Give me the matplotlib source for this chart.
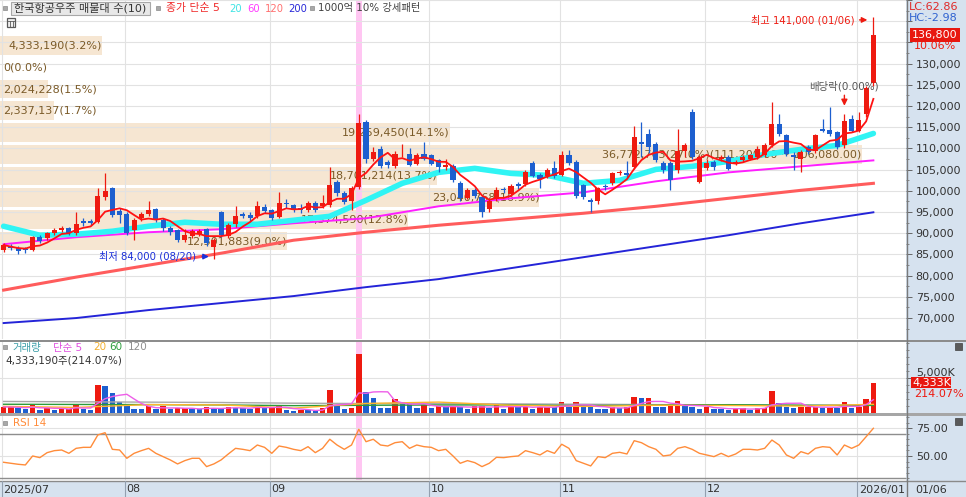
import numpy as np
import pandas as pd
import matplotlib
matplotlib.use("Agg")
import matplotlib.pyplot as plt
from matplotlib.patches import Rectangle
from matplotlib.transforms import blended_transform_factory as blend
from matplotlib.ticker import MultipleLocator

plt.rcParams['font.family'] = ['DejaVu Sans', 'Noto Sans CJK KR']
plt.rcParams['font.size'] = 8

# 일봉 데이터 (그림에서 읽은 값, 2025/07 ~ 2026/01/06)
opens = [86000, 86900, 86500, 86300, 86000, 89100, 88800, 90000, 90700, 91200,
         90000, 92800, 92800, 92600, 98500, 100600, 95200, 94500, 90700, 93500,
         94500, 95600, 93100, 91200, 90700, 88400, 89300, 89800, 91000, 86700,
         94900, 89300, 92100, 94500, 94300, 94000, 96300, 95400, 93800, 97200,
         96600, 96000, 95400, 97200, 96400, 96600, 102000, 99400, 97500, 101000,
         116300, 107600, 109800, 106800, 105900, 108600, 108800, 106400, 108800, 108400,
         107200, 105600, 105900, 101800, 98400, 100300, 98500, 95600, 98000, 100500,
         99300, 101500, 101600, 106600, 103700, 103500, 105300, 103800, 108500, 106800,
         101300, 97800, 97500, 101200, 101800, 104100, 104200, 105600, 111500, 113400,
         111100, 106500, 106500, 104800, 109500, 118700, 102000, 105500, 106800, 107600,
         108000, 106400, 107200, 107600, 108000, 108400, 110700, 115800, 113100, 108400,
         107600, 110300, 109500, 114600, 114400, 113800, 110700, 117000, 114200, 118200,
         125500]
highs = [87800, 87500, 86900, 86700, 89300, 89600, 90400, 91200, 91700, 91500,
         94900, 93500, 93300, 100600, 104300, 100900, 96000, 95000, 93600, 95000,
         97500, 96000, 93500, 91600, 91000, 90900, 91000, 91100, 91300, 88900,
         95200, 92500, 96500, 95000, 95000, 97500, 97000, 95800, 99700, 98000,
         97000, 96800, 97600, 97600, 99000, 105700, 102500, 100000, 101200, 118200,
         116800, 110400, 110500, 107300, 109300, 111000, 110000, 109000, 111600, 108800,
         107500, 107500, 106300, 102300, 100600, 100700, 98900, 98000, 100800, 101000,
         101700, 102100, 105000, 107000, 104200, 105300, 107000, 109500, 109600, 107200,
         101700, 98300, 101000, 101700, 104500, 105000, 107000, 115400, 116200, 114500,
         111500, 107000, 107000, 114500, 111200, 119200, 108400, 107500, 107200, 108500,
         108500, 107200, 108500, 108800, 110500, 111200, 120900, 118200, 113500, 109200,
         109600, 110800, 113500, 117000, 119700, 114200, 118200, 117800, 118500, 124800,
         141000]
lows = [85500, 86000, 85200, 85300, 85700, 87600, 88300, 89600, 90200, 89700,
        89500, 91800, 91900, 92300, 97800, 93800, 92500, 89500, 88400, 93000,
        94000, 92700, 90600, 89700, 88000, 87900, 88900, 89300, 87000, 84000,
        89000, 88800, 91500, 93500, 93000, 93500, 94800, 93200, 93500, 96000,
        95000, 94800, 95000, 95000, 96000, 96200, 98800, 96800, 95400, 100500,
        106500, 107000, 105400, 105500, 105400, 108000, 105800, 106000, 107300, 106000,
        104500, 105000, 102000, 97500, 98000, 98300, 93800, 95000, 97700, 99500,
        98800, 100500, 101100, 103200, 100600, 103000, 103000, 103400, 106000, 98300,
        98000, 94900, 97000, 100300, 101300, 103800, 103000, 105200, 108000, 109000,
        106800, 104300, 100100, 104300, 108000, 107500, 101800, 105000, 105000, 107000,
        104800, 106000, 106800, 107200, 107600, 108000, 110300, 113000, 108300, 104800,
        104500, 108700, 109000, 113800, 113000, 109900, 110200, 113800, 113800, 117500,
        124800]
closes = [87200, 86500, 85800, 86000, 89100, 88100, 90000, 90700, 91200, 90000,
          92100, 92400, 92300, 98700, 99900, 94200, 94300, 90000, 93100, 94500,
          95400, 93100, 91200, 90200, 88400, 89500, 90500, 90500, 87700, 88400,
          89500, 91900, 94000, 94100, 93700, 96500, 95200, 93600, 97200, 96800,
          95400, 95500, 97200, 95400, 97200, 101400, 99400, 97300, 100700, 116100,
          107600, 109200, 105900, 106000, 108600, 108800, 106200, 108400, 107600, 106400,
          105700, 106000, 102500, 98200, 100100, 98700, 95000, 97500, 100300, 100200,
          101200, 101100, 104500, 103600, 102900, 104800, 103500, 108500, 106500, 98700,
          98500, 97300, 100600, 100800, 104100, 104500, 103800, 112700, 111100, 110300,
          107200, 104800, 102500, 109500, 110700, 107900, 107900, 106500, 105600, 108000,
          105200, 106800, 108000, 108400, 109900, 110700, 115800, 113500, 108800, 108000,
          109100, 109100, 113100, 114200, 113500, 110300, 116500, 114200, 116600, 124300,
          136800]

# 거래량 (백만주)
volumes = [0.86, 0.86, 0.72, 0.60, 1.10, 0.45, 0.77, 0.45, 0.58, 0.58,
           1.34, 0.62, 0.45, 3.96, 3.81, 2.91, 1.58, 1.10, 0.62, 0.60,
           0.96, 0.53, 0.96, 0.53, 0.65, 0.70, 0.53, 0.50, 0.86, 0.77,
           0.53, 0.86, 0.72, 0.70, 0.62, 1.10, 0.72, 0.75, 0.96, 0.48,
           0.24, 0.39, 0.36, 0.34, 0.72, 3.24, 1.20, 0.62, 0.77, 8.48,
           3.00, 2.15, 0.77, 0.70, 2.05, 1.58, 1.24, 0.77, 1.10, 0.77,
           0.96, 0.86, 0.96, 0.86, 0.62, 0.96, 0.98, 0.77, 1.10, 0.62,
           1.10, 0.86, 0.88, 0.62, 0.86, 0.90, 0.86, 1.58, 0.86, 1.58,
           0.86, 0.80, 0.62, 0.58, 0.86, 0.72, 0.86, 2.29, 2.10, 2.15,
           0.86, 0.82, 1.10, 1.67, 0.96, 0.86, 0.62, 0.86, 0.62, 0.60,
           0.39, 0.62, 0.77, 0.39, 0.77, 0.78, 3.10, 1.43, 0.86, 0.77,
           0.86, 0.87, 0.88, 0.77, 0.78, 0.77, 1.58, 0.77, 0.80, 2.024228,
           4.333190]

rsi14 = [44.3, 43.4, 42.5, 41.9, 50.0, 48.5, 53.0, 54.8, 55.4, 52.4,
         56.9, 57.8, 57.8, 69.0, 71.0, 56.0, 55.4, 47.9, 52.4, 54.8,
         56.9, 52.4, 49.4, 46.4, 42.8, 45.8, 47.9, 47.9, 40.4, 42.8,
         46.4, 51.8, 56.9, 56.0, 54.8, 59.9, 57.8, 52.4, 59.0, 57.8,
         56.0, 54.8, 58.4, 53.0, 56.9, 65.1, 59.9, 56.0, 59.9, 74.1,
         62.9, 65.1, 59.9, 59.0, 62.0, 62.9, 56.9, 59.9, 58.4, 57.8,
         54.8, 56.0, 50.0, 43.4, 45.8, 44.0, 40.4, 43.4, 48.8, 48.5,
         49.4, 50.0, 54.8, 53.0, 50.9, 54.8, 52.4, 60.6, 56.9, 45.8,
         43.4, 41.0, 49.4, 48.5, 52.4, 53.3, 51.8, 63.8, 62.0, 58.4,
         56.0, 50.0, 50.9, 56.9, 58.4, 56.0, 52.4, 50.9, 49.4, 52.4,
         49.4, 51.8, 56.0, 56.0, 55.4, 56.9, 64.4, 59.9, 50.9, 47.9,
         53.9, 51.8, 56.9, 58.4, 57.8, 50.9, 59.9, 56.9, 59.9, 67.4,
         75.0]

month_labels = ['2025/07', '08', '09', '10', '11', '12', '2026/01']
month_start = [0, 17, 37, 59, 77, 97, 118]
last_date = '01/06'

# 이동평균선
ma20_idx = list(range(0, 121, 5))
ma20 = [91650, 89530, 89770, 90470, 91650, 92590, 92120, 92120, 93060, 94000,
        97770, 101770, 104350, 105300, 104120, 103650, 101770, 102470, 105060, 105770,
        106940, 108590, 109770, 110710, 113530]
ma_idx = list(range(0, 121, 10))
ma60 = [87410, 89060, 90240, 90940, 92350, 93530, 96350, 98240, 99650, 102240, 104350, 105770, 107180]
ma120 = [76590, 79650, 82470, 85290, 88350, 90240, 91880, 93300, 94710, 96350, 98240, 100120, 101770]
ma200 = [68820, 70000, 71880, 73530, 75180, 77290, 79180, 81770, 84350, 86940, 89530, 92350, 94940]
vol_ma20 = [0.95, 0.80, 1.20, 1.16, 0.69, 1.36, 1.56, 1.10, 0.94, 1.10, 1.07, 0.99, 1.24]
vol_ma60 = [1.25, 1.22, 1.20, 1.15, 1.05, 1.10, 1.15, 1.15, 1.06, 1.12, 1.19, 1.10, 1.08]
vol_ma120 = [1.65, 1.60, 1.55, 1.50, 1.40, 1.35, 1.35, 1.30, 1.25, 1.20, 1.17, 1.12, 1.10]

# 매물대 (10개 구간)
profile_low = 85600
profile_step = 5120
profile_vol = [12301883, 17374590, 23040768, 18701214, 36772763, 19259450, 2337137, 2024228, 0, 4333190]
profile_pct = [9.0, 12.8, 16.9, 13.7, 27.0, 14.1, 1.7, 1.5, 0.0, 3.2]

highlight_idx = 49
exdiv_idx = 116
lc_text = 'LC:62.86'
hc_text = 'HC:-2.98'

RED = '#ee1a10'
BLUE = '#1d5fcf'
STRIP = '#d6e2ef'
GRID = '#e2e2e2'
PINK = '#ffc6f2'

W, H = 966, 497
fig = plt.figure(figsize=(W / 100, H / 100), dpi=100)


def px_axes(x0, y0, x1, y1):
    return fig.add_axes([x0 / W, 1 - y1 / H, (x1 - x0) / W, (y1 - y0) / H])


bg = px_axes(0, 0, W, H)
bg.set_xlim(0, W)
bg.set_ylim(H, 0)
bg.axis('off')
bg.set_zorder(0)
bg.add_patch(Rectangle((906, 0), 60, H, fc=STRIP, ec='none'))
bg.add_patch(Rectangle((0, 481), 906, 16, fc=STRIP, ec='none'))

ax_p = px_axes(0, 0, 906, 339)
ax_v = px_axes(0, 342, 906, 413)
ax_r = px_axes(0, 416, 906, 480)
x = np.arange(len(closes))
for a in (ax_p, ax_v, ax_r):
    a.set_zorder(1)
    a.set_facecolor('white')
    a.set_xlim(-0.5, 124.5)
    for s in a.spines.values():
        s.set_visible(False)
    a.set_xticks([])
    for m in month_start:
        a.axvline(m - 0.27, color=GRID, lw=0.8, zorder=1.2)
    a.axvspan(highlight_idx - 0.42, highlight_idx + 0.42, color=PINK, lw=0, zorder=1)
    a.yaxis.tick_right()
    a.tick_params(axis='y', which='major', direction='out', length=4, width=0.7,
                  pad=3, colors='#666666', labelcolor='#333333', labelsize=8)
    a.tick_params(axis='y', which='minor', direction='out', length=2, width=0.6, colors='#777777')

# ---- 가격 패널 ----
ax_p.set_ylim(65060, 144820)
pticks = np.arange(70000, 145001, 5000)
ax_p.set_yticks(pticks)
ax_p.set_yticklabels([f'{v:,}' if v <= 130000 else '' for v in pticks])
ax_p.yaxis.set_minor_locator(MultipleLocator(2500))
ax_p.grid(axis='y', color=GRID, lw=0.8, zorder=1.5)

# 매물대 막대
ptrans = blend(ax_p.transAxes, ax_p.transData)
max_pct = max(profile_pct)
for k, (v, p) in enumerate(zip(profile_vol, profile_pct)):
    lo = profile_low + k * profile_step
    hi = lo + profile_step
    w = 0.951 * p / max_pct
    ax_p.add_patch(Rectangle((0, lo + 350), w, profile_step - 700, transform=ptrans,
                             fc='#f6e6d2', ec='none', zorder=0.2))
    txt = f'{v:,}({p:.1f}%)'
    if p == max_pct:
        txt += f'({hi:,.2f} ~ {lo:,.2f})'
    if w * 906 > 95:
        ax_p.text(w, lo + profile_step / 2, txt, transform=ptrans, ha='right', va='center',
                  color='#7a5a28', fontsize=8, zorder=1.6)
    else:
        ax_p.text(3 / 906, lo + profile_step / 2, txt, transform=ptrans, ha='left', va='center',
                  color='#7a5a28', fontsize=8, zorder=1.6)

# 이동평균선
ax_p.plot(ma_idx, ma200, color='#2424d8', lw=1.4, zorder=2)
ax_p.plot(ma_idx, ma120, color='#ff5c5c', lw=2.2, zorder=2)
ax_p.plot(ma_idx, ma60, color='#ff1eff', lw=1.4, zorder=2.1)
ax_p.plot(ma20_idx, ma20, color='#30f4f4', lw=4.0, zorder=2.2, solid_capstyle='round')

# 캔들
o = np.array(opens)
c = np.array(closes)
col = np.where(c >= o, RED, BLUE)
ax_p.vlines(x, lows, highs, colors=col, lw=0.9, zorder=3)
ax_p.bar(x, np.maximum(np.abs(c - o), 150), bottom=np.minimum(o, c), width=0.7,
         color=col, lw=0, zorder=3.5)

ma5 = pd.Series(closes).rolling(5, min_periods=1).mean()
ax_p.plot(x, ma5, color='#ff1212', lw=1.3, zorder=4)

# 최고 / 최저 표시
imax = int(np.argmax(highs))
imin = int(np.argmin(lows))
ax_p.annotate('', xy=(imax - 0.45, highs[imax] - 700), xytext=(imax - 2.3, highs[imax] - 700),
              arrowprops=dict(arrowstyle='-|>', color=RED, lw=1, mutation_scale=8), zorder=5)
ax_p.text(imax - 2.6, highs[imax] - 700, f'최고 {highs[imax]:,} (01/06)', color=RED,
          ha='right', va='center', fontsize=7.3, zorder=5)
ax_p.annotate('', xy=(imin - 0.3, lows[imin] + 500), xytext=(imin - 2.0, lows[imin] + 500),
              arrowprops=dict(arrowstyle='-|>', color='#1a2fd8', lw=1, mutation_scale=8), zorder=5)
ax_p.text(imin - 2.5, lows[imin] + 500, f'최저 {lows[imin]:,} (08/20)', color='#1a2fd8',
          ha='right', va='center', fontsize=7.3, zorder=5)

# 배당락
ax_p.annotate('', xy=(exdiv_idx, highs[exdiv_idx] + 1200), xytext=(exdiv_idx, highs[exdiv_idx] + 5000),
              arrowprops=dict(arrowstyle='-|>', color=RED, lw=1, mutation_scale=9), zorder=5)
ax_p.text(exdiv_idx, highs[exdiv_idx] + 6400, '배당락(0.00%)', color='#555555',
          ha='center', va='center', fontsize=7.5, zorder=5)

# 현재가 박스
chg = (closes[-1] / closes[-2] - 1) * 100
ax_p.text(1 + 6 / 906, closes[-1], f'{closes[-1]:,}', transform=ptrans, clip_on=False,
          color='white', ha='left', va='center', fontsize=8, zorder=6,
          bbox=dict(boxstyle='square,pad=0.2', fc='#e8170f', ec='none'))
ax_p.annotate(f'{chg:.2f}%', xy=(1, closes[-1]), xycoords=ptrans, xytext=(8, -11),
              textcoords='offset pixels', color=RED, ha='left', va='center', fontsize=8,
              annotation_clip=False)

# ---- 거래량 패널 ----
vol = np.array(volumes)
vcol = [RED] + [RED if vol[i] >= vol[i - 1] else BLUE for i in range(1, len(vol))]
ax_v.set_ylim(0, 10.14)
ax_v.set_yticks([5])
ax_v.set_yticklabels(['5,000K'])
ax_v.yaxis.set_minor_locator(MultipleLocator(1))
for lab in ax_v.get_yticklabels():
    lab.set_va('bottom')
ax_v.axhline(5, color=GRID, lw=0.8, zorder=1.5)
ax_v.bar(x, vol, width=0.76, color=vcol, lw=0, zorder=3)
ax_v.plot(ma_idx, vol_ma120, color='#a8a8a8', lw=1.0, zorder=3.5)
ax_v.plot(ma_idx, vol_ma60, color='#2c9a3a', lw=1.0, zorder=3.6)
ax_v.plot(ma_idx, vol_ma20, color='#ffb52a', lw=1.0, zorder=3.7)
vma5 = pd.Series(volumes).rolling(5, min_periods=1).mean()
ax_v.plot(x, vma5, color='#ee5ee8', lw=1.0, zorder=3.8)
vtrans = blend(ax_v.transAxes, ax_v.transData)
vchg = vol[-1] / vol[-2] * 100
ax_v.text(1 + 6 / 906, vol[-1], f'{vol[-1] * 1000:,.0f}K', transform=vtrans, clip_on=False,
          color='white', ha='left', va='center', fontsize=8, zorder=6,
          bbox=dict(boxstyle='square,pad=0.05', fc='#e8170f', ec='none'))
ax_v.annotate(f'{vchg:.2f}%', xy=(1, vol[-1]), xycoords=vtrans, xytext=(8, -11),
              textcoords='offset pixels', color=RED, ha='left', va='center', fontsize=8,
              annotation_clip=False)

# ---- RSI 패널 ----
ax_r.set_ylim(28.3, 86.1)
ax_r.set_yticks([50, 75])
ax_r.set_yticklabels(['50.00', '75.00'])
ax_r.yaxis.set_minor_locator(MultipleLocator(5))
ax_r.grid(axis='y', color=GRID, lw=0.8, zorder=1.5)
ax_r.axhline(70, color='#8e8e8e', lw=1, zorder=1.6)
ax_r.axhline(30, color='#8e8e8e', lw=1, zorder=1.6)
ax_r.plot(x, rsi14, color='#ff8c3a', lw=1.0, zorder=3)

# ---- 오버레이 (구분선, 범례, 날짜) ----
ov = px_axes(0, 0, W, H)
ov.set_xlim(0, W)
ov.set_ylim(H, 0)
ov.axis('off')
ov.set_zorder(5)
ov.plot([0, W], [340.5, 340.5], color='#8a8a8a', lw=1.4)
ov.add_patch(Rectangle((0, 413), W, 3, fc='#a6a6a6', ec='none'))
ov.plot([0, W], [480.5, 480.5], color='#8a8a8a', lw=1.0)
ov.plot([906.5, 906.5], [0, H], color='#7a7a7a', lw=1.0)
for yy in (343, 418):
    ov.add_patch(Rectangle((955, yy), 7, 7, fc='#5a5a5a', ec='#404040', lw=0.5))

xt = blend(ax_r.transData, ov.transData)
for m, lab in zip(month_start, month_labels):
    ov.plot([m - 0.27, m - 0.27], [481, H], color='#93a0b0', lw=0.8, transform=xt)
    ov.text(m - 0.27 + 0.25, 489.5, lab, transform=xt, ha='left', va='center',
            color='#333333', fontsize=8)
ov.text(915, 489.5, last_date, ha='left', va='center', color='#333333', fontsize=8)

ov.text(909, 7, lc_text, ha='left', va='center', color='#e02828', fontsize=8)
ov.text(909, 18, hc_text, ha='left', va='center', color='#2f62d0', fontsize=8)


def marker(px, py):
    ov.add_patch(Rectangle((px, py - 2), 4, 4, fc='#a8a8a8', ec='#8a8a8a', lw=0.5))


# 상단 범례
marker(3, 8)
ov.add_patch(Rectangle((11, 1.5), 139, 13.5, fc='#e8e8e8', ec='#a8a8a8', lw=0.8))
ov.text(14, 8.5, '한국항공우주 매물대 수(10)', ha='left', va='center', color='#333333', fontsize=8)
marker(156, 8)
legend_items = [(166, '종가 단순 5', '#f02a2a', 7.8), (229, '20', '#40e4e4', 7.2),
                (247, '60', '#ff3cff', 7.2), (265, '120', '#ff7070', 7.2), (288, '200', '#2a2ad8', 7.2)]
for px, s, cc, fs in legend_items:
    ov.text(px, 8.5, s, ha='left', va='center', color=cc, fontsize=fs)
marker(310, 8)
ov.text(318, 8.5, '1000억 10% 강세패턴', ha='left', va='center', color='#404040', fontsize=7.4)
ov.add_patch(Rectangle((7, 18), 8, 9, fc='#f0f0f0', ec='#5a5a5a', lw=0.9))
ov.plot([7, 15], [21, 21], color='#5a5a5a', lw=0.6)
ov.plot([10, 10], [21, 27], color='#5a5a5a', lw=0.6)
ov.plot([12.5, 12.5], [21, 27], color='#5a5a5a', lw=0.6)

# 거래량 범례
marker(3, 347)
vol_items = [(12, '거래량', '#3c9ea8'), (53, '단순 5', '#e050e0'), (93, '20', '#f2b030'),
             (109, '60', '#2e9e3e'), (128, '120', '#909090')]
for px, s, cc in vol_items:
    ov.text(px, 347.5, s, ha='left', va='center', color=cc, fontsize=7.5)
ov.text(5, 360.5, f'{vol[-1] * 1e6:,.0f}주({vchg:.2f}%)', ha='left', va='center',
        color='#333333', fontsize=7.5)

# RSI 범례
marker(3, 423)
ov.text(13, 423.5, 'RSI 14', ha='left', va='center', color='#ff8c3a', fontsize=7.5)

fig.savefig('out.png', dpi=100)
